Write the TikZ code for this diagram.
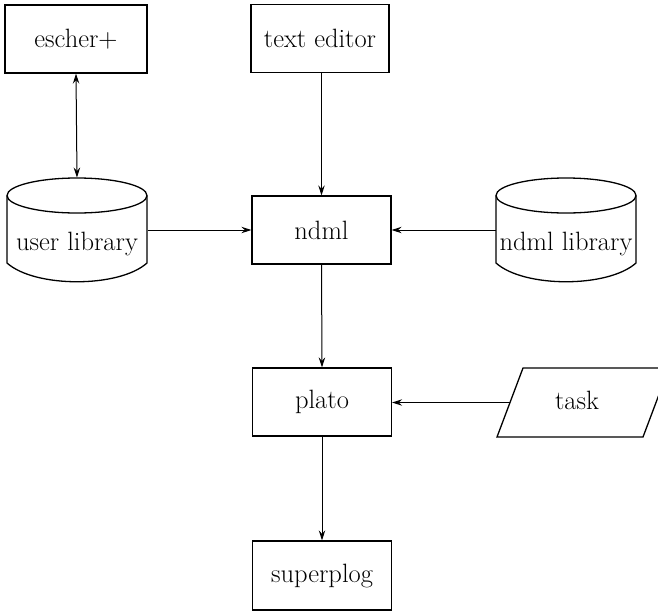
\documentclass[tikz,border=0pt]{standalone}
\usetikzlibrary{arrows.meta}
\begin{document}
\begin{tikzpicture}[x=1pt,y=-1pt,
  line width=1pt,
  txt/.style={font=\fontsize{26.5}{31}\selectfont, inner sep=0pt},
  procbox/.style={draw, line width=1.3pt, minimum width=139pt, minimum height=68pt, txt},
  store/.style={minimum width=140pt, minimum height=104pt, inner sep=0pt},
  conn/.style={-{Stealth[length=10pt,width=6.5pt,inset=3.5pt]}},
  biconn/.style={{Stealth[length=10pt,width=6.5pt,inset=3.5pt]}-{Stealth[length=10pt,width=6.5pt,inset=3.5pt]}}]
\useasboundingbox (0,0) rectangle (658,611);

% boxes
\node[procbox, minimum width=142pt] (escher) at (76,39) {escher+};
\node[procbox, minimum width=138pt] (texted) at (320,38.5) {text editor};
\node[procbox] (ndml) at (321.5,230) {ndml};
\node[procbox] (plato) at (322,402) {plato};
\node[procbox, minimum height=69pt] (superplog) at (322,575.5) {superplog};

% user library cylinder
\draw[line width=1.3pt] (7,195.5) -- (7,263) .. controls (35,288) and (119,288) .. (147,263) -- (147,195.5);
\draw[line width=1.3pt] (77,195.5) ellipse [x radius=70, y radius=17.5];
\node[store] (ulib) at (77,230) {};
\node[txt] (ulibtext) at (77,244) {user library};

% ndml library cylinder
\draw[line width=1.3pt] (496,195.5) -- (496,263) .. controls (524,288) and (608,288) .. (636,263) -- (636,195.5);
\draw[line width=1.3pt] (566,195.5) ellipse [x radius=70, y radius=17.5];
\node[store] (nlib) at (566,230) {};
\node[txt] (nlibtext) at (566,244) {ndml library};

% task parallelogram
\draw[line width=1.3pt] (497,437) -- (523,368) -- (669,368) -- (643,437) -- cycle;
\node[txt] (task) at (577,400) {task};
\coordinate (taskw) at (510.2,402.5);

% connectors
\draw[biconn] (escher.south) -- (ulib.north);
\draw[conn] (texted.south -| ndml.north) -- (ndml.north);
\draw[conn] (ulib.east) -- (ndml.west);
\draw[conn] (nlib.west) -- (ndml.east);
\draw[conn] (ndml.south) -- (plato.north);
\draw[conn] (taskw) -- (taskw -| plato.east);
\draw[conn] (plato.south) -- (superplog.north);
\end{tikzpicture}
\end{document}
